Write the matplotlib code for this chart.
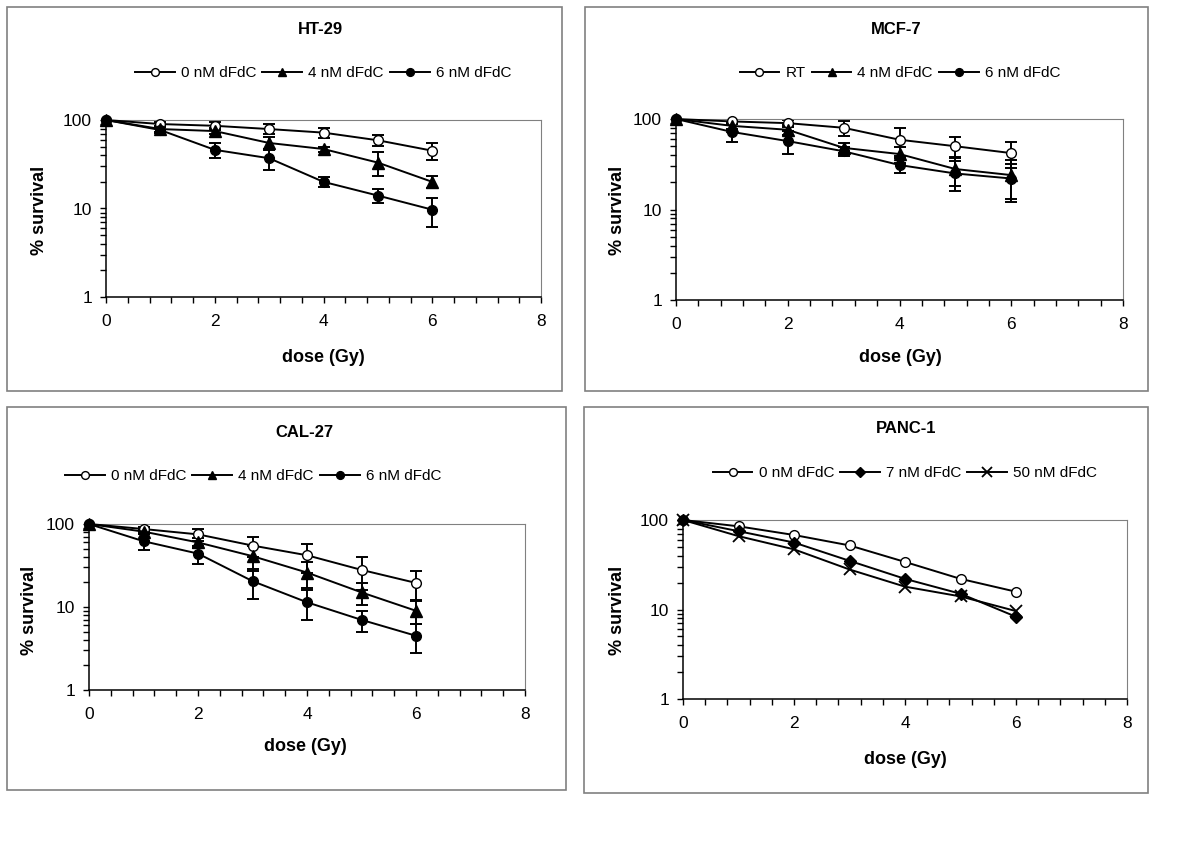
import matplotlib
matplotlib.use("Agg")
import matplotlib.pyplot as plt
from matplotlib.patches import Rectangle
from matplotlib.ticker import FixedLocator, NullFormatter
import numpy as np

plt.rcParams['font.family'] = ['Liberation Sans', 'DejaVu Sans']

dose = [0, 1, 2, 3, 4, 5, 6]

# HT-29
ht_labels = ['0 nM dFdC', '4 nM dFdC', '6 nM dFdC']
ht_y = [[100, 90, 86, 79, 72, 59, 45],
        [100, 79, 75, 55, 47, 33, 20],
        [100, 77, 46, 37, 20, 14, 9.7]]
ht_err = [[0, 5, 8, 10, 9, 8, 10],
          [0, 6, 6, 9, 3, 10, 3],
          [0, 6, 9, 10, 2.5, 2.5, 3.5]]

# MCF-7
mcf_labels = ['RT', '4 nM dFdC', '6 nM dFdC']
mcf_y = [[100, 94, 90, 80, 59, 50, 42],
         [100, 84, 76, 48, 41, 28, 24],
         [100, 72, 57, 44, 31, 25, 22]]
mcf_err = [[0, 5, 8, 15, 20, 13, 13],
           [0, 6, 10, 6, 8, 10, 11],
           [0, 17, 16, 5, 6, 9, 10]]

# CAL-27
cal_labels = ['0 nM dFdC', '4 nM dFdC', '6 nM dFdC']
cal_y = [[100, 87, 75, 55, 42, 28, 19.5],
         [100, 81, 60, 41, 26, 15, 9],
         [100, 62, 44, 20.5, 11.4, 7, 4.5]]
cal_err = [[0, 6, 12, 15, 16, 12, 7.5],
           [0, 6, 8, 14, 9, 4.5, 2.8],
           [0, 14, 11, 8, 4.5, 2, 1.7]]

# PANC-1
panc_labels = ['0 nM dFdC', '7 nM dFdC', '50 nM dFdC']
panc_y = [[100, 85, 68, 52, 34, 22, 15.8],
          [100, 75, 56, 35, 22, 15, 8.3],
          [100, 66, 47, 28, 18, 14, 9.6]]

W, H = 1200, 847
fig = plt.figure(figsize=(12, 8.47), dpi=100)


def fx(px):
    return px / W


def fy(py):
    return 1 - py / H


# grey panel frames
for (l, t, r, b) in [(7, 7, 562, 391), (585, 7, 1148, 391),
                     (7, 407, 566, 790), (584, 407, 1148, 793)]:
    fig.patches.append(Rectangle((fx(l), fy(b)), fx(r - l), (b - t) / H,
                                 transform=fig.transFigure, fill=False,
                                 edgecolor='#808080', lw=1.2))

styles_a = [dict(marker='o', mfc='white', ms=7),
            dict(marker='^', mfc='black', ms=8),
            dict(marker='o', mfc='black', ms=7)]
styles_b = [dict(marker='o', mfc='white', ms=7),
            dict(marker='D', mfc='black', ms=6),
            dict(marker='x', mfc='black', ms=9, mew=1.3)]

panels = [
    dict(box=(106, 120, 541, 297), title='HT-29', tpos=(320, 30),
         leg=(323, 73), xl=(323, 357), yl=(40, 210),
         ys=ht_y, errs=ht_err, labels=ht_labels, st=styles_a),
    dict(box=(676, 119, 1123, 300), title='MCF-7', tpos=(896, 30),
         leg=(900, 73), xl=(900, 357), yl=(617, 210),
         ys=mcf_y, errs=mcf_err, labels=mcf_labels, st=styles_a),
    dict(box=(89, 524, 525, 690), title='CAL-27', tpos=(304, 432),
         leg=(253, 476), xl=(305, 746), yl=(30, 610),
         ys=cal_y, errs=cal_err, labels=cal_labels, st=styles_a),
    dict(box=(683, 520, 1127, 699), title='PANC-1', tpos=(906, 428),
         leg=(905, 473), xl=(905, 759), yl=(617, 610),
         ys=panc_y, errs=None, labels=panc_labels, st=styles_b),
]

for p in panels:
    l, t, r, b = p['box']
    ax = fig.add_axes([fx(l), fy(b), fx(r - l), (b - t) / H])
    handles = []
    for i, y in enumerate(p['ys']):
        st = dict(color='black', lw=1.4, mec='black')
        st.update(p['st'][i])
        if p['errs'] is not None:
            ax.errorbar(dose, y, yerr=p['errs'][i], fmt='none', ecolor='black',
                        elinewidth=1.4, capsize=4.5, capthick=1.4, zorder=2)
        h, = ax.plot(dose, y, zorder=3, clip_on=False, **st)
        handles.append(h)
    ax.set_yscale('log')
    ax.set_ylim(1, 100)
    ax.set_xlim(0, 8)
    ax.yaxis.set_major_locator(FixedLocator([1, 10, 100]))
    ax.set_yticklabels(['1', '10', '100'])
    ax.yaxis.set_minor_locator(FixedLocator(
        [m * d for d in (1, 10) for m in range(2, 10)]))
    ax.yaxis.set_minor_formatter(NullFormatter())
    ax.set_xticks([0, 2, 4, 6, 8])
    ax.set_xticks(np.arange(0, 8.01, 0.4), minor=True)
    ax.tick_params(axis='both', which='both', direction='out', length=4,
                   width=1, colors='black', labelsize=12.5, pad=8)
    ax.tick_params(axis='y', which='major', pad=6)
    for s in ('top', 'right'):
        ax.spines[s].set_color('#808080')
    for s in ('left', 'bottom'):
        ax.spines[s].set_color('black')
        ax.spines[s].set_linewidth(1.1)

    fig.text(fx(p['tpos'][0]), fy(p['tpos'][1]), p['title'], ha='center',
             va='center', fontsize=12, fontweight='bold')
    fig.text(fx(p['xl'][0]), fy(p['xl'][1]), 'dose (Gy)', ha='center',
             va='center', fontsize=13, fontweight='bold')
    fig.text(fx(p['yl'][0]), fy(p['yl'][1]), '% survival', ha='center',
             va='center', rotation=90, fontsize=13, fontweight='bold')
    fig.legend(handles=handles, labels=p['labels'], ncol=3, frameon=False,
               loc='center', bbox_to_anchor=(fx(p['leg'][0]), fy(p['leg'][1])),
               fontsize=11, handlelength=2.6, columnspacing=0.4,
               handletextpad=0.4, markerscale=0.8)

fig.savefig('out.png', dpi=100, facecolor='white')
